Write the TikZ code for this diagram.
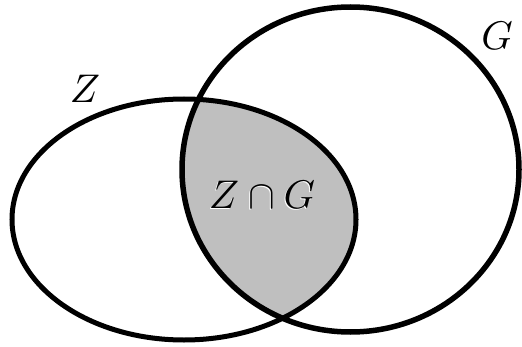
\documentclass[tikz,border=0pt]{standalone}
\begin{document}
\begin{tikzpicture}[x=1pt,y=1pt,
  outline/.style={draw=black,line width=5pt},
  lbl/.style={scale=4,inner sep=0pt}]
\useasboundingbox (0,0) rectangle (522,346);
\begin{scope}
  \clip (184,126.5) ellipse [x radius=172, y radius=120.5];
  \fill[gray!50] (350.5,176.5) ellipse [x radius=168.5, y radius=162.5];
\end{scope}
\draw[outline] (184,126.5) ellipse [x radius=172, y radius=120.5];
\draw[outline,line width=5.5pt] (350.5,176.5) ellipse [x radius=168.5, y radius=162.5];
\node[lbl] (zl) at (85,257) {$Z$};
\node[lbl] (gl) at (497,310) {$G$};
\node[lbl,text=white] (ishadow) at (261,150) {$Z\cap G$};
\node[lbl] (il) at (262,151) {$Z\cap G$};
\end{tikzpicture}
\end{document}
